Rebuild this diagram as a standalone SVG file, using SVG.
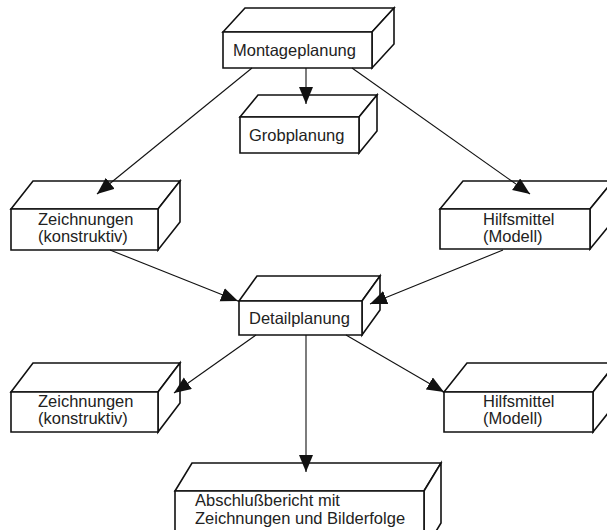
<svg xmlns="http://www.w3.org/2000/svg" width="607" height="530" viewBox="0 0 607 530">
<style>
.box path{fill:#fff;stroke:#111;stroke-width:1.6;stroke-linejoin:miter}
.lbl{font-family:"Liberation Sans",Arial,sans-serif;font-size:16.5px;fill:#222}
.conn line{stroke:#111;stroke-width:1.1;marker-end:url(#ah)}
</style>
<defs>
<marker id="ah" markerUnits="userSpaceOnUse" markerWidth="18" markerHeight="15" refX="17" refY="7" orient="auto">
<path d="M0,0 L17,7 L0,14 z" fill="#111"/>
</marker>
</defs>
<rect width="607" height="530" fill="#fff"/>
<g class="box" id="montageplanung">
<path d="M223,32 L245,8 L394,8 L372,32 Z"/>
<path d="M372,32 L394,8 L394,44 L372,68 Z"/>
<path d="M223,32 H372 V68 H223 Z"/>
<text class="lbl" x="233" y="56">Montageplanung</text>
</g>
<g class="box" id="grobplanung">
<path d="M240,117 L258,95 L377,95 L359,117 Z"/>
<path d="M359,117 L377,95 L377,131 L359,153 Z"/>
<path d="M240,117 H359 V153 H240 Z"/>
<text class="lbl" x="249" y="141">Grobplanung</text>
</g>
<g class="box" id="zeichnungen1">
<path d="M11,209 L33,181 L180,181 L158,209 Z"/>
<path d="M158,209 L180,181 L180,222 L158,250 Z"/>
<path d="M11,209 H158 V250 H11 Z"/>
<text class="lbl" x="38" y="225">Zeichnungen</text>
<text class="lbl" x="38" y="242">(konstruktiv)</text>
</g>
<g class="box" id="hilfsmittel1">
<path d="M440,209 L463,181 L613,181 L590,209 Z"/>
<path d="M590,209 L613,181 L613,221 L590,249 Z"/>
<path d="M440,209 H590 V249 H440 Z"/>
<text class="lbl" x="483" y="225">Hilfsmittel</text>
<text class="lbl" x="483" y="242">(Modell)</text>
</g>
<g class="box" id="detailplanung">
<path d="M239,301 L257,276 L380,276 L362,301 Z"/>
<path d="M362,301 L380,276 L380,310 L362,335 Z"/>
<path d="M239,301 H362 V335 H239 Z"/>
<text class="lbl" x="249" y="324">Detailplanung</text>
</g>
<g class="box" id="zeichnungen2">
<path d="M11,392 L33,363 L180,363 L158,392 Z"/>
<path d="M158,392 L180,363 L180,403 L158,432 Z"/>
<path d="M11,392 H158 V432 H11 Z"/>
<text class="lbl" x="38" y="407">Zeichnungen</text>
<text class="lbl" x="38" y="424">(konstruktiv)</text>
</g>
<g class="box" id="hilfsmittel2">
<path d="M444,392 L467,363 L616,363 L593,392 Z"/>
<path d="M593,392 L616,363 L616,403 L593,432 Z"/>
<path d="M444,392 H593 V432 H444 Z"/>
<text class="lbl" x="483" y="407">Hilfsmittel</text>
<text class="lbl" x="483" y="424">(Modell)</text>
</g>
<g class="box" id="abschlussbericht">
<path d="M175,491 L192,463 L441,463 L424,491 Z"/>
<path d="M424,491 L441,463 L441,523 L424,551 Z"/>
<path d="M175,491 H424 V551 H175 Z"/>
<text class="lbl" x="195" y="506">Abschlußbericht mit</text>
<text class="lbl" x="195" y="524">Zeichnungen und Bilderfolge</text>
</g>
<g class="conn" id="connectors">
<line x1="306" y1="68" x2="306" y2="104"/>
<line x1="252" y1="68" x2="97" y2="194"/>
<line x1="352" y1="68" x2="530" y2="194"/>
<line x1="110" y1="250" x2="238" y2="301"/>
<line x1="503" y1="250" x2="370" y2="304"/>
<line x1="256" y1="335" x2="174" y2="393"/>
<line x1="346" y1="335" x2="444" y2="392"/>
<line x1="306" y1="335" x2="306" y2="472"/>
</g>
</svg>
